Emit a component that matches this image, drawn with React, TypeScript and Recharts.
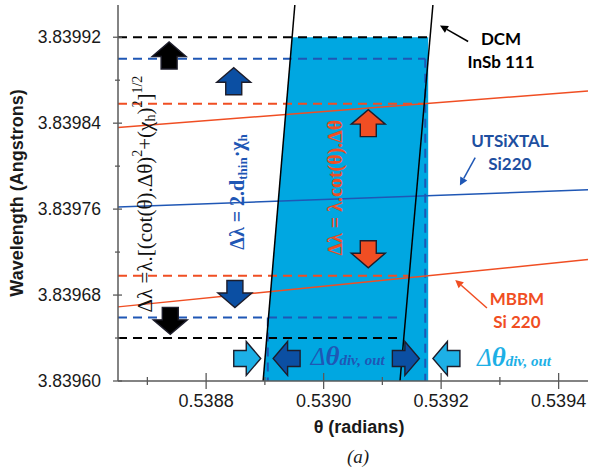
import React from 'react';
import { ComposedChart, XAxis, YAxis, Area, ReferenceLine, ReferenceDot, Label } from 'recharts';

// ---------- axes ----------
const thetaDomain = [0.53865, 0.53945];
const lambdaDomain = [3.8396, 3.83995];
const thetaTicks = [0.5387, 0.5388, 0.5389, 0.539, 0.5391, 0.5392, 0.5393, 0.5394];
const lambdaTicks = [3.8396, 3.83964, 3.83968, 3.83972, 3.83976, 3.8398, 3.83984, 3.83988, 3.83992];

// ---------- shaded acceptance region (theta, lambda low, lambda high) ----------
const fillTheta = [0.538897, 0.538946, 0.539178];
const fillLow = [3.8396, 3.8396, 3.8396];
const fillHigh = [3.8396, 3.83992, 3.83992];

// ---------- solid curves [theta1, lambda1, theta2, lambda2] ----------
const dcmLeftEdge = [0.538951, 3.83995, 0.538897, 3.8396];
const dcmRightEdge = [0.539186, 3.83995, 0.53913, 3.8396];
const mbbmUpper = [0.53865, 3.839836, 0.53945, 3.83987];
const mbbmLower = [0.53865, 3.839669, 0.53945, 3.839713];
const utsixtalLine = [0.53865, 3.839762, 0.53945, 3.839778];

// ---------- dashed bandwidth limits: level and end theta ----------
const dcmLevels = [3.83992, 3.83964];
const dcmLevelEnds = [0.539178, 0.539125];
const utsLevels = [3.8399, 3.839659];
const utsLevelEnds = [0.539173, 0.539125];
const mbbmLevels = [3.839858, 3.839698];
const mbbmLevelEnds = [0.539173, 0.539144];
// vertical divergence limits: theta, top lambda
const divTheta = [0.538905, 0.539173];
const divTop = [3.839659, 3.8399];

// ---------- block arrows ----------
const arrowTheta = [0.538737, 0.538847, 0.539076, 0.539076, 0.538849, 0.538739, 0.53887, 0.538937, 0.53914, 0.539209];
const arrowLambda = [3.839903, 3.839879, 3.83984, 3.839718, 3.839681, 3.839656, 3.839621, 3.839621, 3.839621, 3.839621];
const arrowDir = ['up', 'up', 'up', 'down', 'down', 'down', 'right', 'left', 'right', 'left'];
const arrowKind = ['dcm', 'uts', 'mbbm', 'mbbm', 'uts', 'dcm', 'light', 'uts', 'uts', 'light'];

// ---------- labels ----------
const labelNames = ['DCM', 'InSb 111', 'UTSiXTAL', 'Si220', 'MBBM', 'Si 220'];
const labelTheta = [0.539302, 0.539302, 0.539317, 0.539317, 0.539329, 0.539329];
const labelLambda = [3.839919, 3.839897, 3.839824, 3.839802, 3.839677, 3.839655];
const labelKind = ['dcm', 'dcm', 'uts', 'uts', 'mbbm', 'mbbm'];

// pointer arrows [from theta, from lambda, to theta, to lambda]
const dcmPointer = [0.539246, 3.839916, 0.539198, 3.839931];
const utsPointer = [0.539258, 3.839808, 0.539232, 3.839782];
const mbbmPointer = [0.539278, 3.839668, 0.539224, 3.839694];

// formula positions
const formulaTheta = [0.538696, 0.538853, 0.539019];
const formulaLambda = [3.839774, 3.839776, 3.83978];
const divLabelTheta = [0.539041, 0.539324];
const divLabelLambda = [3.839622, 3.839621];

const COLORS: Record<string, string> = {
  dcm: '#000000',
  uts: '#1f57b5',
  mbbm: '#f04e23',
  light: '#1db0e6',
  fill: '#00a7e1',
  darkArrow: '#0b4fa3',
};
const AXIS = '#5a5a5a';
const SANS = '"Liberation Sans", Arial, sans-serif';
const SERIF = '"Liberation Serif", "Times New Roman", serif';
const LABEL_FONT = 'Lato, "Open Sans", sans-serif';

const fillData = fillTheta.map((t, i) => ({ x: t, r: [fillLow[i], fillHigh[i]] }));

const LeftTick = (p: any) => {
  const { x, y, payload } = p;
  const v = payload.value;
  const major = Math.round((v - 3.8396) * 1e5) % 8 === 0;
  return (
    <g>
      <line x1={x - (major ? 5 : 3)} x2={x + (major ? 4 : 2)} y1={y} y2={y} stroke={AXIS} strokeWidth={1.3} />
      {major && (
        <text x={x - 17} y={y} textAnchor="end" dominantBaseline="central" fontSize={17.5} fill="#1a1a1a" fontFamily={SANS}>
          {v.toFixed(5)}
        </text>
      )}
    </g>
  );
};

const BottomTick = (p: any) => {
  const { x, y, payload } = p;
  const v = payload.value;
  const major = Math.round(v * 1e4) % 2 === 0;
  return (
    <g>
      <line x1={x} x2={x} y1={y - (major ? 8 : 4)} y2={y + (major ? 8 : 4)} stroke={AXIS} strokeWidth={1.3} />
      {major && (
        <text x={x} y={y + 20} textAnchor="middle" dominantBaseline="central" fontSize={18} fill="#1a1a1a" fontFamily={SANS}>
          {v.toFixed(4)}
        </text>
      )}
    </g>
  );
};

const TopTick = (p: any) => {
  const { x, y } = p;
  return <line x1={x} x2={x} y1={y} y2={y + 8} stroke={AXIS} strokeWidth={1.3} />;
};

const RightTick = (p: any) => {
  const { x, y } = p;
  return <line x1={x - 7} x2={x} y1={y} y2={y} stroke={AXIS} strokeWidth={1.3} />;
};

const arrowAngle: Record<string, number> = { right: 0, down: 90, left: 180, up: -90 };

const makeBlockArrow = (dir: string, kind: string) => (p: any) => {
  const { cx, cy } = p;
  const fill = kind === 'uts' ? COLORS.darkArrow : COLORS[kind];
  return (
    <path
      d="M -13.5 -8 L -1 -8 L -1 -17 L 13.5 0 L -1 17 L -1 8 L -13.5 8 Z"
      transform={`translate(${cx},${cy}) rotate(${arrowAngle[dir]})`}
      fill={fill}
      stroke="#1d1d2b"
      strokeWidth={1.4}
      strokeLinejoin="miter"
    />
  );
};

const makeTextLabel = (text: string, kind: string) => (p: any) => (
  <text
    x={p.cx}
    y={p.cy}
    textAnchor="middle"
    dominantBaseline="central"
    fontSize={17}
    fontWeight="bold"
    fontFamily={LABEL_FONT}
    fill={kind === 'uts' ? '#1e4fa0' : COLORS[kind]}
  >
    {text}
  </text>
);

const PointerShape = (color: string) => (p: any) => {
  const { x1, y1, x2, y2 } = p;
  const a = Math.atan2(y2 - y1, x2 - x1);
  const L = 8;
  const w = 4;
  const bx = x2 - L * Math.cos(a);
  const by = y2 - L * Math.sin(a);
  const px = -Math.sin(a) * w;
  const py = Math.cos(a) * w;
  return (
    <g>
      <line x1={x1} y1={y1} x2={bx} y2={by} stroke={color} strokeWidth={1.5} />
      <path d={`M ${x2} ${y2} L ${bx + px} ${by + py} L ${bx - px} ${by - py} Z`} fill={color} />
    </g>
  );
};

const BlackFormula = (p: any) => (
  <text
    transform={`translate(${p.cx},${p.cy}) rotate(-90)`}
    textAnchor="middle"
    dominantBaseline="central"
    fontFamily={SERIF}
    fontSize={21}
    fill="#111"
  >
    <tspan>Δλ =λ.[(cot(θ).Δθ)</tspan>
    <tspan dy={-8} fontSize={14}>2</tspan>
    <tspan dy={8}>+(χ</tspan>
    <tspan dy={5} fontSize={14}>h</tspan>
    <tspan dy={-5}>)</tspan>
    <tspan dy={-8} fontSize={14}>2</tspan>
    <tspan dy={8}>]</tspan>
    <tspan dy={-8} fontSize={14}>1/2</tspan>
  </text>
);

const BlueFormula = (p: any) => (
  <text
    transform={`translate(${p.cx},${p.cy}) rotate(-90)`}
    textAnchor="middle"
    dominantBaseline="central"
    fontFamily={SERIF}
    fontSize={20}
    fontWeight="bold"
    fill="#1f57b5"
  >
    <tspan>Δλ = 2.d</tspan>
    <tspan dy={5} fontSize={13}>thin</tspan>
    <tspan dy={-5}>·χ</tspan>
    <tspan dy={5} fontSize={13}>h</tspan>
  </text>
);

const RedFormula = (p: any) => (
  <text
    transform={`translate(${p.cx},${p.cy}) rotate(-90)`}
    textAnchor="middle"
    dominantBaseline="central"
    fontFamily={SERIF}
    fontSize={20}
    fontWeight="bold"
    fill="#f04e23"
  >
    Δλ = λ.cot(θ).Δθ
  </text>
);

const formulaShapes = [BlackFormula, BlueFormula, RedFormula];

const makeDivLabel = (color: string) => (p: any) => (
  <text x={p.cx} y={p.cy + 8} textAnchor="middle" fontFamily={SERIF} fontStyle="italic" fill={color}>
    <tspan fontSize={25}>Δ</tspan>
    <tspan fontSize={27} fontWeight="bold">θ</tspan>
    <tspan fontSize={15} fontWeight="bold">div, out</tspan>
  </text>
);
const divLabelColors = ['#1f57b5', '#1db0e6'];

const seg = (s: number[]) => [
  { x: s[0], y: s[1] },
  { x: s[2], y: s[3] },
];

export default function App() {
  return (
    <div style={{ position: 'absolute', left: 0, top: 0, width: 589, height: 468, background: '#fff' }}>
      <ComposedChart width={589} height={468} data={fillData} margin={{ top: 5, right: 1, bottom: 0, left: 0 }}>
        <XAxis
          dataKey="x"
          type="number"
          domain={thetaDomain}
          allowDataOverflow
          ticks={thetaTicks}
          interval={0}
          height={87}
          tickSize={0}
          tickMargin={0}
          tickLine={false}
          tick={<BottomTick />}
          axisLine={{ stroke: AXIS, strokeWidth: 1.5 }}
        >
          <Label
            content={(p: any) => {
              const vb = p.viewBox;
              return (
                <g>
                  <text x={vb.x + vb.width / 2 + 6} y={vb.y + 46} textAnchor="middle" dominantBaseline="central" fontSize={18} fontWeight="bold" fontFamily={SANS} fill="#1a1a1a">
                    θ (radians)
                  </text>
                  <text x={vb.x + vb.width / 2 + 5} y={vb.y + 75} textAnchor="middle" dominantBaseline="central" fontSize={19} fontStyle="italic" fontFamily={SERIF} fill="#1a1a1a">
                    (a)
                  </text>
                </g>
              );
            }}
          />
        </XAxis>
        <XAxis
          xAxisId="top"
          orientation="top"
          type="number"
          dataKey="x"
          domain={thetaDomain}
          allowDataOverflow
          ticks={thetaTicks}
          interval={0}
          height={0}
          tickSize={0}
          tickMargin={0}
          tickLine={false}
          tick={<TopTick />}
          axisLine={{ stroke: AXIS, strokeWidth: 1.5 }}
        />
        <YAxis
          type="number"
          domain={lambdaDomain}
          allowDataOverflow
          ticks={lambdaTicks}
          interval={0}
          width={118}
          tickSize={0}
          tickMargin={0}
          tickLine={false}
          tick={<LeftTick />}
          axisLine={{ stroke: AXIS, strokeWidth: 1.5 }}
        >
          <Label
            content={(p: any) => {
              const vb = p.viewBox;
              const cx = vb.x + 17;
              const cy = vb.y + vb.height / 2;
              return (
                <text transform={`translate(${cx},${cy}) rotate(-90)`} textAnchor="middle" dominantBaseline="central" fontSize={18} fontWeight="bold" fontFamily={SANS} fill="#1a1a1a">
                  Wavelength (Angstrons)
                </text>
              );
            }}
          />
        </YAxis>
        <YAxis
          yAxisId="right"
          orientation="right"
          type="number"
          domain={lambdaDomain}
          allowDataOverflow
          ticks={lambdaTicks}
          interval={0}
          width={0}
          tickSize={0}
          tickMargin={0}
          tickLine={false}
          tick={<RightTick />}
          axisLine={{ stroke: AXIS, strokeWidth: 1.5 }}
        />

        <Area
          dataKey="r"
          type="linear"
          stroke="none"
          fill={COLORS.fill}
          fillOpacity={1}
          isAnimationActive={false}
          dot={false}
          activeDot={false}
        />

        {/* dashed bandwidth levels */}
        {dcmLevels.map((l, i) => (
          <ReferenceLine key={`dl${i}`} segment={[{ x: thetaDomain[0], y: l }, { x: dcmLevelEnds[i], y: l }]} stroke={COLORS.dcm} strokeWidth={2} strokeDasharray="9 6" ifOverflow="visible" />
        ))}
        {utsLevels.map((l, i) => (
          <ReferenceLine key={`ul${i}`} segment={[{ x: thetaDomain[0], y: l }, { x: utsLevelEnds[i], y: l }]} stroke={COLORS.uts} strokeWidth={2} strokeDasharray="9 6" ifOverflow="visible" />
        ))}
        {mbbmLevels.map((l, i) => (
          <ReferenceLine key={`ml${i}`} segment={[{ x: thetaDomain[0], y: l }, { x: mbbmLevelEnds[i], y: l }]} stroke={COLORS.mbbm} strokeWidth={2} strokeDasharray="9 6" ifOverflow="visible" />
        ))}
        {divTheta.map((t, i) => (
          <ReferenceLine key={`dv${i}`} segment={[{ x: t, y: divTop[i] }, { x: t, y: lambdaDomain[0] }]} stroke={COLORS.uts} strokeWidth={2} strokeDasharray="9 6" ifOverflow="visible" />
        ))}

        {/* solid curves */}
        <ReferenceLine segment={seg(mbbmUpper)} stroke={COLORS.mbbm} strokeWidth={1.5} ifOverflow="visible" />
        <ReferenceLine segment={seg(mbbmLower)} stroke={COLORS.mbbm} strokeWidth={1.5} ifOverflow="visible" />
        <ReferenceLine segment={seg(utsixtalLine)} stroke={COLORS.uts} strokeWidth={1.5} ifOverflow="visible" />
        <ReferenceLine segment={seg(dcmLeftEdge)} stroke={COLORS.dcm} strokeWidth={1.5} ifOverflow="visible" />
        <ReferenceLine segment={seg(dcmRightEdge)} stroke={COLORS.dcm} strokeWidth={1.5} ifOverflow="visible" />

        {/* pointers */}
        <ReferenceLine segment={seg(dcmPointer)} stroke={COLORS.dcm} ifOverflow="visible" shape={PointerShape('#000')} />
        <ReferenceLine segment={seg(utsPointer)} stroke={COLORS.uts} ifOverflow="visible" shape={PointerShape('#1f57b5')} />
        <ReferenceLine segment={seg(mbbmPointer)} stroke={COLORS.mbbm} ifOverflow="visible" shape={PointerShape('#f04e23')} />

        {/* block arrows */}
        {arrowTheta.map((t, i) => (
          <ReferenceDot key={`a${i}`} x={t} y={arrowLambda[i]} r={1} ifOverflow="visible" shape={makeBlockArrow(arrowDir[i], arrowKind[i])} />
        ))}

        {/* formulas */}
        {formulaTheta.map((t, i) => (
          <ReferenceDot key={`f${i}`} x={t} y={formulaLambda[i]} r={1} ifOverflow="visible" shape={formulaShapes[i]} />
        ))}
        {divLabelTheta.map((t, i) => (
          <ReferenceDot key={`dl${i}`} x={t} y={divLabelLambda[i]} r={1} ifOverflow="visible" shape={makeDivLabel(divLabelColors[i])} />
        ))}

        {/* crystal labels */}
        {labelNames.map((n, i) => (
          <ReferenceDot key={`l${i}`} x={labelTheta[i]} y={labelLambda[i]} r={1} ifOverflow="visible" shape={makeTextLabel(n, labelKind[i])} />
        ))}
      </ComposedChart>
    </div>
  );
}
